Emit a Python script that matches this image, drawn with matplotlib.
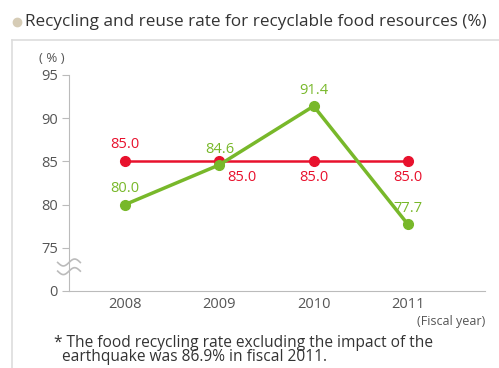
import numpy as np
import matplotlib.pyplot as plt
from matplotlib.lines import Line2D

years = ["2008", "2009", "2010", "2011"]
target = [85.0, 85.0, 85.0, 85.0]
actual = [80.0, 84.6, 91.4, 77.7]
ytick_vals = [70, 75, 80, 85, 90, 95]
ytick_labels = ["0", "75", "80", "85", "90", "95"]

RED = "#e8112d"
GREEN = "#78b82a"
GRAY = "#555555"
AXC = "#bbbbbb"

plt.rcParams['font.family'] = ['Open Sans', 'DejaVu Sans']

fig = plt.figure(figsize=(4.99, 3.68), dpi=100)
ax = fig.add_axes([69 / 499, 1 - 291 / 368, (485 - 69) / 499, (291 - 75) / 368])

x = np.arange(len(years))
ax.plot(x, target, color=RED, lw=1.8, marker="o", ms=7, zorder=3)
ax.plot(x, actual, color=GREEN, lw=2.5, marker="o", ms=7, zorder=4)

# value labels (2009 target label is nudged right so it clears the green line)
for i, v in enumerate(target):
    if i == 0:
        ax.annotate(f"{v:.1f}", (i, v), xytext=(0, 7), textcoords="offset points",
                    ha="center", va="bottom", color=RED, fontsize=10.5)
    else:
        dx = 16 if i == 1 else 0
        ax.annotate(f"{v:.1f}", (i, v), xytext=(dx, -6), textcoords="offset points",
                    ha="center", va="top", color=RED, fontsize=10.5)
for i, v in enumerate(actual):
    ax.annotate(f"{v:.1f}", (i, v), xytext=(0, 6), textcoords="offset points",
                ha="center", va="bottom", color=GREEN, fontsize=10.5)

ax.set_xlim(-56 / 94.3, 3 + 77 / 94.3)
ax.set_ylim(70, 95)
ax.set_xticks(x)
ax.set_xticklabels(years, color=GRAY, fontsize=10.5)
ax.set_yticks(ytick_vals)
ax.set_yticklabels(ytick_labels, color=GRAY, fontsize=10.5)
ax.tick_params(axis="x", length=0, pad=4)
ax.tick_params(axis="y", length=5, color=AXC, pad=3)
for s in ["top", "right"]:
    ax.spines[s].set_visible(False)
for s in ["left", "bottom"]:
    ax.spines[s].set_color(AXC)
ax.set_facecolor("none")

# axis break mark
t = np.linspace(-1, 1, 30)
for dy in (0.0, 1.0):
    xs = t * 0.12
    ys = 72.3 + dy + 0.4 * np.sin(t * np.pi)
    ax.plot(xs - 56 / 94.3, ys, color=AXC, lw=1.2, clip_on=False, zorder=5)

# frame and header
fig.add_artist(Line2D([12 / 499, 1], [1 - 40 / 368, 1 - 40 / 368], color="#dddddd", lw=1.2))
fig.add_artist(Line2D([12 / 499, 12 / 499], [1 - 40 / 368, 0], color="#dddddd", lw=1.2))
fig.add_artist(Line2D([17 / 499], [1 - 22 / 368], marker="o", ms=6, color="#d6ccb6", lw=0))
fig.text(25 / 499, 1 - 22 / 368, "Recycling and reuse rate for recyclable food resources (%)",
         fontsize=12.3, color="#333333", va="center", ha="left")
fig.text(52 / 499, 1 - 58 / 368, "( % )", fontsize=9.5, color=GRAY, va="center", ha="center")
fig.text(485 / 499, 1 - 322 / 368, "(Fiscal year)", fontsize=9, color=GRAY, va="center", ha="right")
fig.text(54 / 499, 1 - 350 / 368,
         "* The food recycling rate excluding the impact of the\n  earthquake was 86.9% in fiscal 2011.",
         fontsize=11.2, color="#333333", va="center", ha="left", linespacing=0.85)

fig.savefig("out.png", dpi=100)
